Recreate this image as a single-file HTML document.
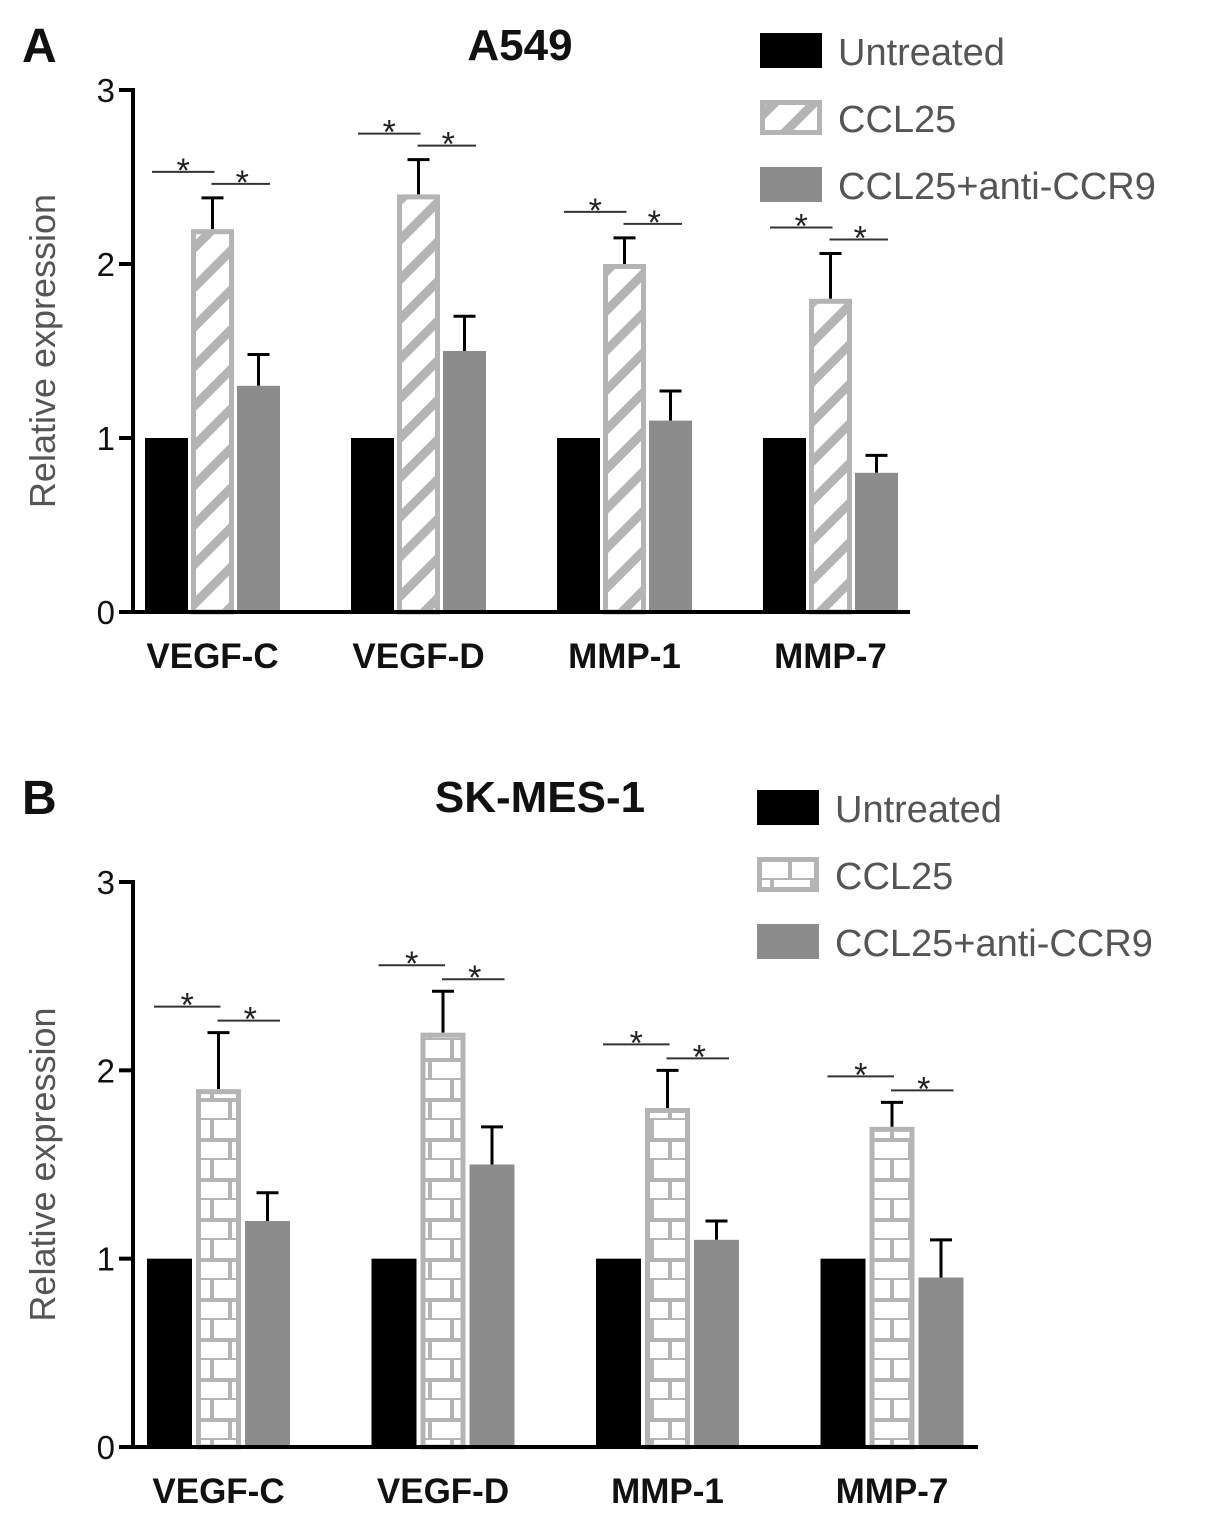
<!DOCTYPE html>
<html><head><meta charset="utf-8"><style>
html,body{margin:0;padding:0;background:#fff;}
svg{display:block;font-family:"Liberation Sans",Arial,sans-serif;}
</style></head><body>
<svg id="fig" width="1205" height="1537" viewBox="0 0 1205 1537" xmlns="http://www.w3.org/2000/svg">
<defs>
<pattern id="hatch" patternUnits="userSpaceOnUse" width="28" height="28" patternTransform="rotate(45)">
<rect width="28" height="28" fill="#fff"/><rect x="0" y="0" width="9" height="28" fill="#b4b4b4"/>
</pattern>
<pattern id="brick" patternUnits="userSpaceOnUse" width="40" height="40">
<rect width="40" height="40" fill="#fff"/>
<rect x="0" y="18" width="40" height="4" fill="#b4b4b4"/><rect x="0" y="38" width="40" height="4" fill="#b4b4b4"/>
<rect x="10" y="0" width="4" height="20" fill="#b4b4b4"/><rect x="28" y="20" width="4" height="20" fill="#b4b4b4"/>
</pattern>
</defs>
</svg>
<script>
const categories=["VEGF-C","VEGF-D","MMP-1","MMP-7"];
const seriesNames=["Untreated","CCL25","CCL25+anti-CCR9"];
const aUntreated=[1,1,1,1];
const aCCL25=[2.2,2.4,2.0,1.8];
const aCCL25Err=[0.18,0.2,0.15,0.26];
const aAnti=[1.3,1.5,1.1,0.8];
const aAntiErr=[0.18,0.2,0.17,0.1];
const bUntreated=[1,1,1,1];
const bCCL25=[1.9,2.2,1.8,1.7];
const bCCL25Err=[0.3,0.22,0.2,0.13];
const bAnti=[1.2,1.5,1.1,0.9];
const bAntiErr=[0.15,0.2,0.1,0.2];
const yTicks=[0,1,2,3];

const NS="http://www.w3.org/2000/svg";
const svg=document.getElementById('fig');
function mk(tag,attrs,parent,text){const e=document.createElementNS(NS,tag);for(const k in attrs)e.setAttribute(k,attrs[k]);if(text!==undefined)e.textContent=text;(parent||svg).appendChild(e);return e;}

function panel(cfg){
  const g=mk('g',{});
  
  
  const y=v=>cfg.y0-v*(cfg.y0-cfg.y3)/3;
  const gx=i=>cfg.x0+i*cfg.gap;
  const fills=["#000","url(#"+cfg.pat+")","#8c8c8c"];
  const vals=[cfg.u,cfg.c,cfg.a], errs=[null,cfg.ce,cfg.ae];
  for(let i=0;i<categories.length;i++){
    for(let s=0;s<3;s++){
      const x=gx(i)+s*cfg.step, v=vals[s][i];
      const top=errs[s]?y(v+errs[s][i]):null;
      if(top!==null){
        const cx=x+cfg.bw/2;
        const l=mk('line',{x1:cx,x2:cx,y1:y(v),y2:top,stroke:'#000','stroke-width':3},g);
        
        const c=mk('line',{x1:cx-11,x2:cx+11,y1:top,y2:top,stroke:'#000','stroke-width':3},g);
        
      }
      let r;
      if(s===1) r=mk('rect',{x:x+2.5,y:y(v)+2.5,width:cfg.bw-5,height:y(0)-y(v)-2.5,fill:fills[s],stroke:'#b4b4b4','stroke-width':5},g);
      else r=mk('rect',{x:x,y:y(v),width:cfg.bw,height:y(0)-y(v),fill:fills[s]},g);
      
      
    }
    const topC=y(cfg.c[i]+cfg.ce[i]);
    const l1y=topC-cfg.sig1, l2y=topC-cfg.sig2;
    const x1=gx(i)+7, x2=gx(i)+cfg.step+cfg.bw/2+2, x3=gx(i)+2*cfg.step+cfg.bw-10;
    const s1=mk('line',{x1:x1,x2:x2,y1:l1y,y2:l1y,stroke:'#333','stroke-width':2},g);
    
    const s2=mk('line',{x1:x2-3,x2:x3,y1:l2y,y2:l2y,stroke:'#333','stroke-width':2},g);
    
    const t1=mk('text',{x:(x1+x2)/2,y:l1y+10,'font-size':34,'text-anchor':'middle',fill:'#222'},g,'*');
    
    const t2=mk('text',{x:(x2+x3)/2,y:l2y+10,'font-size':34,'text-anchor':'middle',fill:'#222'},g,'*');
    
    const lab=mk('text',{x:gx(i)+cfg.step+cfg.bw/2,y:cfg.y0+56,'font-size':35,'font-weight':'bold','text-anchor':'middle',fill:'#111'},g,categories[i]);
    
  }
  const ya=mk('line',{x1:cfg.ax,x2:cfg.ax,y1:cfg.y3-2,y2:cfg.y0+2,stroke:'#000','stroke-width':4},g);
  
  const xa=mk('line',{x1:cfg.ax-2,x2:cfg.xend,y1:cfg.y0,y2:cfg.y0,stroke:'#000','stroke-width':4},g);
  
  yTicks.forEach(t=>{
    const tl=mk('line',{x1:cfg.ax-14,x2:cfg.ax,y1:y(t),y2:y(t),stroke:'#000','stroke-width':4},g);
    
    const tt=mk('text',{x:cfg.ax-18,y:y(t)+12,'font-size':33,'text-anchor':'end',fill:'#111'},g,String(t));
    
  });
  const yt=mk('text',{x:0,y:0,'font-size':36,'text-anchor':'middle',fill:'#555',transform:'translate(55,'+((cfg.y0+cfg.y3)/2)+') rotate(-90)'},g,'Relative expression');
  
  const tt=mk('text',{x:cfg.titleX,y:cfg.titleY,'font-size':44,'font-weight':'bold','text-anchor':'middle',fill:'#111'},g,cfg.title);
  
  const pl=mk('text',{x:22,y:cfg.letterY,'font-size':48,'font-weight':'bold',fill:'#111'},g,cfg.letter);
  
  seriesNames.forEach((n,s)=>{
    const ly=cfg.legY+s*67;
    let r;
    if(s===1) r=mk('rect',{x:cfg.legX+2.5,y:ly+2.5,width:57,height:30,fill:'url(#'+cfg.pat+')',stroke:'#b4b4b4','stroke-width':5},g);
    else r=mk('rect',{x:cfg.legX,y:ly,width:62,height:35,fill:fills[s]},g);
    
    const t=mk('text',{x:cfg.legX+78,y:ly+32,'font-size':38,fill:'#555'},g,n);
    
  });
}
panel({name:'panel-a-chart',pat:'hatch',u:aUntreated,c:aCCL25,ce:aCCL25Err,a:aAnti,ae:aAntiErr,
  y0:612,y3:90,ax:133,xend:910,x0:145,gap:206,step:46,bw:43,sig1:26,sig2:14,
  title:'A549',titleX:520,titleY:60,letter:'A',letterY:62,legX:760,legY:33});
panel({name:'panel-b-chart',pat:'brick',u:bUntreated,c:bCCL25,ce:bCCL25Err,a:bAnti,ae:bAntiErr,
  y0:1447,y3:882,ax:133,xend:978,x0:147,gap:224.5,step:49,bw:45,sig1:26,sig2:12,
  title:'SK-MES-1',titleX:540,titleY:812,letter:'B',letterY:814,legX:757,legY:790});
</script>
</body></html>
